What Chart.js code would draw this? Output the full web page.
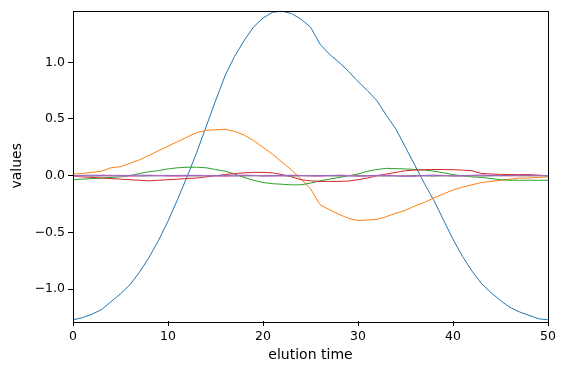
<!DOCTYPE html>
<html>
<head>
<meta charset="utf-8">
<script src="https://cdn.jsdelivr.net/npm/chart.js@4/dist/chart.umd.min.js"></script>
<style>
  html, body { margin: 0; padding: 0; background: #fff; }
  #wrap { width: 566px; height: 374px; }
</style>
</head>
<body>
<div id="wrap"><canvas id="chart" width="566" height="374"></canvas></div>
<script>
// elution time (x) for every series
const elutionTime = [];
for (let t = 0; t <= 50; t++) elutionTime.push(t);

// series values
const blue = [-1.27, -1.25, -1.22, -1.18, -1.11, -1.04, -0.96, -0.85, -0.72, -0.57, -0.40,
  -0.21, -0.01, 0.20, 0.43, 0.66, 0.88, 1.05, 1.19, 1.31, 1.39, 1.44, 1.45, 1.43, 1.38, 1.31,
  1.16, 1.07, 1.00, 0.92, 0.83, 0.75, 0.66, 0.53, 0.41, 0.25, 0.09, -0.07, -0.22, -0.39, -0.56,
  -0.71, -0.84, -0.95, -1.03, -1.10, -1.16, -1.20, -1.23, -1.26, -1.27];
const orange = [0.015, 0.02, 0.03, 0.04, 0.07, 0.08, 0.11, 0.14, 0.18, 0.22, 0.26,
  0.30, 0.34, 0.38, 0.40, 0.405, 0.41, 0.39, 0.36, 0.31, 0.25, 0.19, 0.12, 0.05, -0.03, -0.115,
  -0.255, -0.30, -0.34, -0.375, -0.395, -0.39, -0.385, -0.36, -0.33, -0.305, -0.265, -0.235, -0.195, -0.16, -0.125,
  -0.10, -0.08, -0.06, -0.05, -0.04, -0.03, -0.02, -0.02, -0.015, -0.01];
const green = [-0.035, -0.03, -0.025, -0.02, -0.015, -0.01, 0.0, 0.02, 0.035, 0.045, 0.06,
  0.07, 0.075, 0.075, 0.07, 0.055, 0.04, 0.015, -0.015, -0.04, -0.06, -0.07, -0.075, -0.08, -0.08, -0.065,
  -0.045, -0.03, -0.015, 0.0, 0.015, 0.04, 0.055, 0.065, 0.062, 0.06, 0.055, 0.05, 0.04, 0.026, 0.01,
  -0.003, -0.01, -0.015, -0.025, -0.035, -0.04, -0.04, -0.04, -0.04, -0.04];
const red = [-0.005, -0.01, -0.015, -0.02, -0.025, -0.03, -0.035, -0.04, -0.045, -0.04, -0.035,
  -0.03, -0.025, -0.02, -0.01, 0.0, 0.01, 0.02, 0.025, 0.03, 0.03, 0.025, 0.01, -0.01, -0.035, -0.045,
  -0.05, -0.05, -0.05, -0.047, -0.035, -0.02, 0.0, 0.015, 0.03, 0.044, 0.05, 0.053, 0.055, 0.055, 0.053,
  0.05, 0.044, 0.02, 0.015, 0.012, 0.01, 0.01, 0.01, 0.005, 0.0];
const purple = [0.0, 0.003, 0.005, 0.002, -0.003, 0.0, 0.004, 0.006, 0.002, -0.002, 0.0,
  0.003, 0.004, 0.001, -0.002, 0.0, 0.004, 0.005, 0.003, 0.0, -0.003, 0.0, 0.004, 0.003, 0.0, -0.002,
  0.0, 0.003, 0.002, -0.002, -0.004, 0.0, 0.004, 0.003, -0.003, -0.006, -0.002, 0.003, 0.004, 0.0, -0.003,
  0.0, 0.004, 0.005, 0.002, 0.0, 0.003, 0.004, 0.002, 0.0, 0.0];
const pink = [-0.005, -0.003, 0.0, 0.006, 0.004, -0.002, -0.006, 0.0, 0.005, 0.003, -0.004,
  -0.006, 0.0, 0.005, 0.002, -0.004, -0.007, 0.0, 0.006, 0.004, -0.002, -0.005, 0.0, 0.005, 0.003, -0.003,
  -0.006, 0.0, 0.006, 0.003, -0.004, -0.005, 0.002, 0.006, 0.002, -0.004, -0.006, 0.0, 0.005, 0.004, -0.003,
  -0.004, 0.002, 0.006, 0.004, 0.0, -0.003, 0.0, 0.004, 0.002, 0.0];
const gray = [0.002, 0.0, -0.004, -0.002, 0.003, 0.004, 0.0, -0.004, -0.002, 0.002, 0.004,
  0.0, -0.003, -0.002, 0.002, 0.003, 0.0, -0.003, -0.003, 0.0, 0.003, 0.002, -0.002, -0.004, 0.0, 0.003,
  0.002, -0.002, -0.003, 0.0, 0.003, 0.002, -0.002, -0.004, 0.0, 0.003, 0.002, -0.002, -0.004, -0.001, 0.002,
  0.003, 0.0, -0.003, -0.002, 0.002, 0.003, 0.0, -0.002, 0.0, 0.0];

const yTicks = [-1.0, -0.5, 0.0, 0.5, 1.0];
const xTicks = [0, 10, 20, 30, 40, 50];

const seriesList = [
  { values: blue, color: "#1f77b4" },
  { values: orange, color: "#ff7f0e" },
  { values: green, color: "#2ca02c" },
  { values: red, color: "#d62728" },
  { values: gray, color: "#7f7f7f" },
  { values: pink, color: "#e377c2" },
  { values: purple, color: "#9467bd" }
];

const fontFamily = "'DejaVu Sans', sans-serif";

// cadre complet autour de la zone du graphe
const frame = {
  id: "frame",
  afterDraw(chart) {
    const a = chart.chartArea;
    const ctx = chart.ctx;
    ctx.save();
    ctx.strokeStyle = "#000";
    ctx.lineWidth = 1;
    ctx.strokeRect(Math.round(a.left) + 0.5, Math.round(a.top) + 0.5,
      Math.round(a.right - a.left), Math.round(a.bottom - a.top));
    ctx.restore();
  }
};

new Chart(document.getElementById("chart").getContext("2d"), {
  type: "line",
  data: {
    datasets: seriesList.map((s, i) => ({
      data: s.values.map((v, k) => ({ x: elutionTime[k], y: v })),
      borderColor: s.color,
      borderWidth: 1,
      pointRadius: 0,
      tension: 0,
      fill: false,
      order: -i
    }))
  },
  options: {
    responsive: false,
    animation: false,
    layout: { padding: { left: 0, right: 18, top: 9, bottom: 0 } },
    plugins: { legend: { display: false }, tooltip: { enabled: false } },
    scales: {
      x: {
        type: "linear",
        min: 0,
        max: 50,
        afterBuildTicks: (scale) => { scale.ticks = xTicks.map(v => ({ value: v })); },
        afterFit: (scale) => { scale.height = 53; },
        grid: { drawOnChartArea: false, drawTicks: true, tickLength: 5, color: "#000" },
        border: { display: false },
        ticks: { color: "#000", font: { family: fontFamily, size: 12.5 }, padding: 3, maxRotation: 0 },
        title: { display: true, text: "elution time", color: "#000", font: { family: fontFamily, size: 14 }, padding: { top: 2, bottom: 10 } }
      },
      y: {
        type: "linear",
        min: -1.28,
        max: 1.456,
        afterBuildTicks: (scale) => { scale.ticks = yTicks.map(v => ({ value: v })); },
        afterFit: (scale) => { scale.width = 73; },
        grid: { drawOnChartArea: false, drawTicks: true, tickLength: 5, color: "#000" },
        border: { display: false },
        ticks: {
          color: "#000",
          font: { family: fontFamily, size: 12.5 },
          padding: 3,
          callback: (v) => (v < 0 ? "\u2212" : "") + Math.abs(v).toFixed(1)
        },
        title: { display: true, text: "values", color: "#000", font: { family: fontFamily, size: 14 }, padding: { top: 9, bottom: 2 } }
      }
    }
  },
  plugins: [frame]
});
</script>
</body>
</html>
